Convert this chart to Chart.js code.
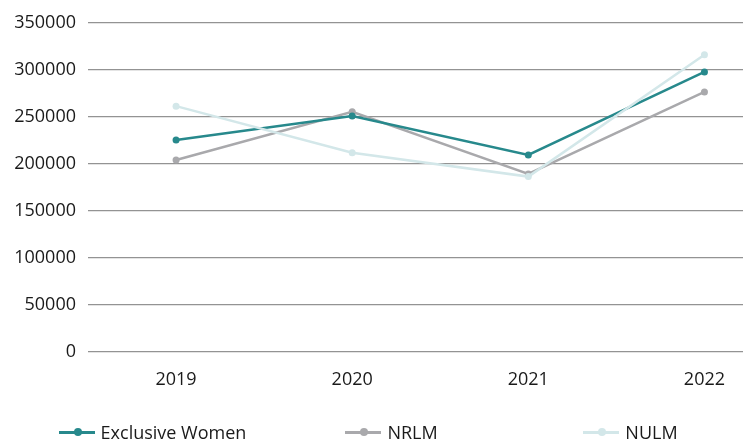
<!DOCTYPE html>
<html>
<head>
<meta charset="utf-8">
<script src="https://cdn.jsdelivr.net/npm/chart.js@4/dist/chart.umd.min.js"></script>
<style>
  html, body { margin: 0; padding: 0; background: #fff; overflow: hidden; width: 743px; height: 440px; }
  #wrap { position: relative; width: 743px; height: 440px; overflow: hidden; }
  #c { position: absolute; left: 0; top: 0; }
  #legend { position: absolute; left: 33px; top: 420px; width: 720px; height: 24px; display: flex; }
  .item { width: 239px; display: flex; justify-content: center; align-items: center; font-family: "Open Sans", sans-serif; font-size: 18px; color: #1a1a1a; white-space: nowrap; line-height: 24px; }
  .mark { position: relative; width: 36px; height: 3px; margin-right: 6px; }
  .mark i { position: absolute; left: 15px; top: -2.5px; width: 8px; height: 8px; border-radius: 50%; }
</style>
</head>
<body>
<div id="wrap">
  <canvas id="c" width="796" height="440"></canvas>
  <div id="legend"></div>
</div>
<script>
const years = ["2019", "2020", "2021", "2022"];
const exclusiveWomen = [225400, 250800, 209500, 297700];
const nrlm = [204200, 255300, 189300, 276500];
const nulm = [261400, 211900, 186500, 316100];
const seriesNames = ["Exclusive Women", "NRLM", "NULM"];
const seriesColors = ["#27898c", "#a9a9ac", "#d3e7e9"];

const font = { family: "'Open Sans', sans-serif", size: 18 };

const datasets = [exclusiveWomen, nrlm, nulm].map((vals, i) => ({
  label: seriesNames[i],
  data: vals,
  borderColor: seriesColors[i],
  backgroundColor: seriesColors[i],
  borderWidth: 2.5,
  pointRadius: 3.5,
  pointHoverRadius: 3.5,
  pointBorderWidth: 0,
  tension: 0,
  fill: false
}));
// light series drawn on top, teal above gray
datasets[0].order = 1;
datasets[1].order = 2;
datasets[2].order = 0;

new Chart(document.getElementById("c"), {
  type: "line",
  data: { labels: years, datasets },
  options: {
    responsive: false,
    animation: false,
    events: [],
    layout: { padding: { top: 19, right: 0, bottom: 48, left: 0 } },
    plugins: { legend: { display: false }, tooltip: { enabled: false } },
    scales: {
      x: {
        offset: true,
        grid: { display: false, drawTicks: false },
        border: { display: false },
        ticks: { font, color: "#1a1a1a", padding: 17, maxRotation: 0 },
        afterFit: (s) => { s.height = 40; }
      },
      y: {
        min: 0,
        max: 350000,
        ticks: { stepSize: 50000, font, color: "#1a1a1a", padding: 12, callback: (v) => String(v) },
        grid: { color: "#939393", lineWidth: 1.3, drawTicks: false },
        border: { display: false },
        afterFit: (s) => { s.width = 88; }
      }
    }
  }
});

// legend
const legend = document.getElementById("legend");
seriesNames.forEach((name, i) => {
  const item = document.createElement("div");
  item.className = "item";
  const mark = document.createElement("span");
  mark.className = "mark";
  mark.style.background = seriesColors[i];
  const dot = document.createElement("i");
  dot.style.background = seriesColors[i];
  mark.appendChild(dot);
  const txt = document.createElement("span");
  txt.textContent = name;
  item.appendChild(mark);
  item.appendChild(txt);
  legend.appendChild(item);
});
</script>
</body>
</html>
